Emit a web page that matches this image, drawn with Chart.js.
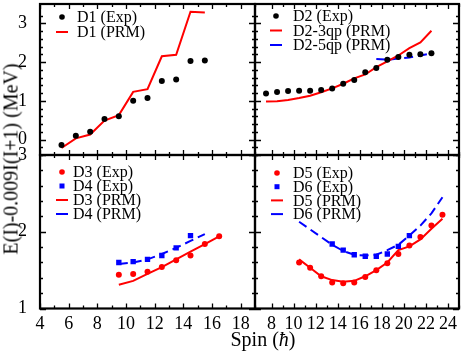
<!DOCTYPE html>
<html>
<head>
<meta charset="utf-8">
<script src="https://cdn.jsdelivr.net/npm/chart.js@4.4.1/dist/chart.umd.min.js"></script>
<style>
  body { margin: 0; background: #fff; }
  #wrap { position: relative; width: 463px; height: 354px; overflow: hidden; }
  #wrap canvas { position: absolute; left: 0; top: 0; }
  .lbl { position: absolute; font-family: "Liberation Serif", serif; color: #000; white-space: nowrap; }
  #ylab { left: 11px; top: 159px; font-size: 20px; transform: translate(-50%, -50%) rotate(-90deg); }
  #xlab { left: 263px; top: 339px; font-size: 20px; transform: translate(-50%, -50%); }
</style>
</head>
<body>
<div id="wrap">
  <canvas id="c1" width="463" height="354"></canvas>
  <canvas id="c2" width="463" height="354"></canvas>
  <canvas id="c3" width="463" height="354"></canvas>
  <canvas id="c4" width="463" height="354"></canvas>
  <div class="lbl" id="ylab">E(I)-0.009I(I+1) (MeV)</div>
  <div class="lbl" id="xlab">Spin (<i>ħ</i>)</div>
</div>
<script>
// panel (a): D1
const d1Spin = [5.5, 6.5, 7.5, 8.5, 9.5, 10.5, 11.5, 12.5, 13.5, 14.5, 15.5];
const d1Exp = [-0.14, 0.10, 0.20, 0.53, 0.60, 1.00, 1.07, 1.51, 1.55, 2.03, 2.04];
const d1Prm = [-0.22, 0.03, 0.13, 0.49, 0.63, 1.23, 1.30, 2.15, 2.19, 3.30, 3.28];

// panel (b): D2
const d2Spin = [7.5, 8.5, 9.5, 10.5, 11.5, 12.5, 13.5, 14.5, 15.5, 16.5, 17.5, 18.5, 19.5, 20.5, 21.5, 22.5];
const d2Exp = [1.19, 1.23, 1.25, 1.26, 1.26, 1.28, 1.32, 1.44, 1.54, 1.74, 1.85, 2.06, 2.13, 2.19, 2.20, 2.23];
const d2Prm3 = [0.98, 0.99, 1.02, 1.07, 1.13, 1.22, 1.32, 1.44, 1.58, 1.68, 1.87, 2.02, 2.17, 2.36, 2.51, 2.81];
const d2Spin5 = [17.5, 18.5, 19.5, 20.5, 21.5, 22.5];
const d2Prm5 = [2.08, 2.06, 2.09, 2.12, 2.17, 2.22];

// panel (c): D3, D4
const d3Spin = [9.5, 10.5, 11.5, 12.5, 13.5, 14.5, 15.5, 16.5];
const d3Exp = [1.44, 1.45, 1.48, 1.54, 1.63, 1.69, 1.84, 1.94];
const d3Prm = [1.31, 1.36, 1.45, 1.54, 1.64, 1.74, 1.84, 1.94];
const d4SpinExp = [9.5, 10.5, 11.5, 12.5, 13.5, 14.5];
const d4Exp = [1.60, 1.61, 1.64, 1.69, 1.79, 1.95];
const d4SpinPrm = [9.5, 10.5, 11.5, 12.5, 13.5, 14.5, 15.5];
const d4Prm = [1.58, 1.60, 1.64, 1.71, 1.79, 1.88, 1.97];

// panel (d): D5, D6
const d5Spin = [10.5, 11.5, 12.5, 13.5, 14.5, 15.5, 16.5, 17.5, 18.5, 19.5, 20.5, 21.5, 22.5, 23.5];
const d5Exp = [1.60, 1.53, 1.42, 1.34, 1.33, 1.34, 1.41, 1.50, 1.59, 1.71, 1.82, 1.93, 2.08, 2.22];
const d5Prm = [1.64, 1.53, 1.42, 1.37, 1.35, 1.36, 1.42, 1.50, 1.60, 1.76, 1.81, 1.90, 2.04, 2.17];
const d6SpinExp = [13.5, 14.5, 15.5, 16.5, 17.5, 18.5, 19.5, 20.5];
const d6Exp = [1.84, 1.76, 1.70, 1.68, 1.68, 1.71, 1.81, 1.95];
const d6SpinPrm = d5Spin;
const d6Prm = [2.13, 2.03, 1.93, 1.83, 1.75, 1.70, 1.69, 1.70, 1.76, 1.83, 1.95, 2.08, 2.24, 2.45];

const RED = "#ff0000", BLUE = "#0000ff", BLACK = "#000000";
const FONT = "Liberation Serif";

function pts(xs, ys) {
    return xs.map((x, i) => ({ x: x, y: ys[i] }));
}

function exp(label, xs, ys, color, style) {
    return {
        label: label, data: pts(xs, ys), showLine: false,
        pointStyle: style, pointRadius: style === "rect" ? 3.8 : 3,
        pointBackgroundColor: color, pointBorderColor: color, pointBorderWidth: 0
    };
}

function prm(label, xs, ys, color, dashed) {
    return {
        label: label, data: pts(xs, ys), showLine: true, pointRadius: 0,
        borderColor: color, borderWidth: 2, borderDash: dashed ? [9, 5] : [],
        fill: false, tension: 0
    };
}

const isInt = v => Math.abs(v - Math.round(v)) < 1e-6;

// frame + inward ticks on all four sides
const framePlugin = {
    id: "frame",
    afterDraw(chart) {
        const { ctx, chartArea: a, scales } = chart;
        const x = scales.x, y = scales.y;
        ctx.save();
        ctx.strokeStyle = BLACK;
        ctx.lineWidth = 1.3;
        ctx.beginPath();
        x.ticks.forEach(t => {
            if (!isInt(t.value)) return;
            const px = Math.round(x.getPixelForValue(t.value)) + 0.5;
            const len = Math.round(t.value) % 2 === 0 ? 5 : 3;
            ctx.moveTo(px, a.bottom); ctx.lineTo(px, a.bottom - len);
            ctx.moveTo(px, a.top); ctx.lineTo(px, a.top + len);
        });
        y.ticks.forEach(t => {
            const v = Math.round(t.value * 5) / 5;
            if (Math.abs(t.value - v) > 1e-6) return;
            const py = Math.round(y.getPixelForValue(t.value)) + 0.5;
            const len = isInt(t.value) ? 6 : 3;
            ctx.moveTo(a.left, py); ctx.lineTo(a.left + len, py);
            ctx.moveTo(a.right, py); ctx.lineTo(a.right - len, py);
        });
        ctx.stroke();
        ctx.lineWidth = 2.2;
        ctx.strokeRect(a.left, a.top, a.right - a.left, a.bottom - a.top);
        ctx.restore();
    }
};

// legend drawn inside the panel, top left
const legendPlugin = {
    id: "panelLegend",
    afterDatasetsDraw(chart, args, o) {
        const ctx = chart.ctx;
        ctx.save();
        ctx.font = o.size + "px " + FONT;
        ctx.textBaseline = "middle";
        chart.data.datasets.forEach((ds, i) => {
            const cy = o.y + i * o.dy;
            if (ds.showLine) {
                ctx.strokeStyle = ds.borderColor;
                ctx.lineWidth = 2;
                ctx.beginPath();
                ctx.moveTo(o.x - 6, cy); ctx.lineTo(o.x + 6, cy);
                ctx.stroke();
            } else {
                ctx.fillStyle = ds.pointBackgroundColor;
                if (ds.pointStyle === "rect") {
                    ctx.fillRect(o.x - 2.5, cy - 2.5, 5, 5);
                } else {
                    ctx.beginPath();
                    ctx.arc(o.x, cy, 2.8, 0, Math.PI * 2);
                    ctx.fill();
                }
            }
            ctx.fillStyle = BLACK;
            ctx.fillText(ds.label, o.tx, cy + 1);
        });
        ctx.restore();
    }
};

function noPad(s) {
    s.paddingTop = 0; s.paddingBottom = 0; s.paddingLeft = 0; s.paddingRight = 0;
}

function makePanel(id, cfg) {
    return new Chart(document.getElementById(id), {
        type: "line",
        data: { datasets: cfg.datasets },
        options: {
            responsive: false,
            animation: false,
            events: [],
            layout: { padding: cfg.pad },
            plugins: {
                legend: { display: false },
                tooltip: { enabled: false },
                panelLegend: cfg.legend
            },
            scales: {
                x: {
                    type: "linear", min: cfg.xMin, max: cfg.xMax,
                    grid: { display: false }, border: { display: false },
                    afterFit: s => { s.height = cfg.xBox; noPad(s); },
                    ticks: {
                        display: cfg.xBox > 0, stepSize: 1, autoSkip: false, maxRotation: 0,
                        padding: -3, color: BLACK, font: { family: FONT, size: 18 },
                        callback: v => (isInt(v) && Math.round(v) % 2 === 0) ? String(Math.round(v)) : ""
                    }
                },
                y: {
                    type: "linear", min: cfg.yMin, max: cfg.yMax,
                    grid: { display: false }, border: { display: false },
                    afterFit: s => { s.width = cfg.yBox; noPad(s); },
                    ticks: {
                        display: cfg.yBox > 0, stepSize: 0.2, autoSkip: false,
                        padding: 5, color: BLACK, font: { family: FONT, size: 18 },
                        callback: v => isInt(v) ? String(Math.round(v)) : ""
                    }
                }
            }
        },
        plugins: [framePlugin, legendPlugin]
    });
}

const L = 40, M = 255, R = 460, T = 2, H = 155, B = 308.5, W = 463, HT = 354, XB = 30;

makePanel("c1", {
    pad: { left: 0, right: W - M, top: T, bottom: HT - H },
    yBox: L, xBox: 0,
    xMin: 4, xMax: 19, yMin: -0.4, yMax: 3.5,
    legend: { x: 62, tx: 77, y: 17, dy: 15, size: 16 },
    datasets: [
        exp("D1 (Exp)", d1Spin, d1Exp, BLACK, "circle"),
        prm("D1 (PRM)", d1Spin, d1Prm, RED, false)
    ]
});

makePanel("c2", {
    pad: { left: M, right: W - R, top: T, bottom: HT - H },
    yBox: 0, xBox: 0,
    xMin: 6.5, xMax: 25, yMin: -0.4, yMax: 3.5,
    legend: { x: 276, tx: 293, y: 16, dy: 14.5, size: 16 },
    datasets: [
        exp("D2 (Exp)", d2Spin, d2Exp, BLACK, "circle"),
        prm("D2-3qp (PRM)", d2Spin, d2Prm3, RED, false),
        prm("D2-5qp (PRM)", d2Spin5, d2Prm5, BLUE, true)
    ]
});

makePanel("c3", {
    pad: { left: 0, right: W - M, top: H, bottom: HT - B - XB },
    yBox: L, xBox: XB,
    xMin: 4, xMax: 19, yMin: 1, yMax: 3,
    legend: { x: 62, tx: 73, y: 172, dy: 14, size: 16 },
    datasets: [
        exp("D3 (Exp)", d3Spin, d3Exp, RED, "circle"),
        exp("D4 (Exp)", d4SpinExp, d4Exp, BLUE, "rect"),
        prm("D3 (PRM)", d3Spin, d3Prm, RED, false),
        prm("D4 (PRM)", d4SpinPrm, d4Prm, BLUE, true)
    ]
});

makePanel("c4", {
    pad: { left: M, right: W - R, top: H, bottom: HT - B - XB },
    yBox: 0, xBox: XB,
    xMin: 6.5, xMax: 25, yMin: 1, yMax: 3,
    legend: { x: 277, tx: 293, y: 173, dy: 13.7, size: 16 },
    datasets: [
        exp("D5 (Exp)", d5Spin, d5Exp, RED, "circle"),
        exp("D6 (Exp)", d6SpinExp, d6Exp, BLUE, "rect"),
        prm("D5 (PRM)", d5Spin, d5Prm, RED, false),
        prm("D6 (PRM)", d6SpinPrm, d6Prm, BLUE, true)
    ]
});
</script>
</body>
</html>
